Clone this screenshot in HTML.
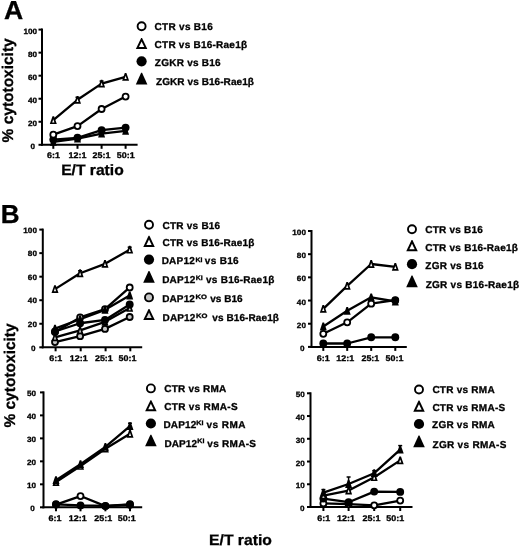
<!DOCTYPE html>
<html><head><meta charset="utf-8"><style>
html,body{margin:0;padding:0;background:#fff;}
svg{display:block;will-change:transform;}
text{text-rendering:geometricPrecision;font-family:"Liberation Sans",sans-serif;font-weight:bold;fill:#000;stroke:#000;stroke-width:0.3px;}
</style></head><body>
<svg width="520" height="547" viewBox="0 0 520 547">
<rect width="520" height="547" fill="#fff"/>
<text x="4.04" y="18.60" font-size="26" textLength="19.19" lengthAdjust="spacingAndGlyphs">A</text>
<text transform="translate(13.00,142.39) rotate(-90)" x="0" y="0" font-size="15.5" textLength="104.05" lengthAdjust="spacingAndGlyphs">% cytotoxicity</text>
<text x="61.18" y="174.80" font-size="15" textLength="62.55" lengthAdjust="spacingAndGlyphs">E/T ratio</text>
<line x1="42.00" y1="28.60" x2="42.00" y2="145.80" stroke="#000" stroke-width="2"/>
<line x1="41.00" y1="144.80" x2="137.60" y2="144.80" stroke="#000" stroke-width="2"/>
<line x1="38.50" y1="144.80" x2="42.00" y2="144.80" stroke="#000" stroke-width="2"/>
<line x1="38.50" y1="121.76" x2="42.00" y2="121.76" stroke="#000" stroke-width="2"/>
<line x1="38.50" y1="98.72" x2="42.00" y2="98.72" stroke="#000" stroke-width="2"/>
<line x1="38.50" y1="75.68" x2="42.00" y2="75.68" stroke="#000" stroke-width="2"/>
<line x1="38.50" y1="52.64" x2="42.00" y2="52.64" stroke="#000" stroke-width="2"/>
<line x1="38.50" y1="29.60" x2="42.00" y2="29.60" stroke="#000" stroke-width="2"/>
<line x1="53.30" y1="144.80" x2="53.30" y2="148.80" stroke="#000" stroke-width="2"/>
<line x1="77.50" y1="144.80" x2="77.50" y2="148.80" stroke="#000" stroke-width="2"/>
<line x1="101.60" y1="144.80" x2="101.60" y2="148.80" stroke="#000" stroke-width="2"/>
<line x1="125.60" y1="144.80" x2="125.60" y2="148.80" stroke="#000" stroke-width="2"/>
<text x="30.50" y="148.80" font-size="7.7" textLength="4.54" lengthAdjust="spacingAndGlyphs">0</text>
<text x="28.07" y="125.76" font-size="7.7" textLength="9.08" lengthAdjust="spacingAndGlyphs">20</text>
<text x="28.07" y="102.72" font-size="7.7" textLength="9.08" lengthAdjust="spacingAndGlyphs">40</text>
<text x="28.07" y="79.68" font-size="7.7" textLength="9.08" lengthAdjust="spacingAndGlyphs">60</text>
<text x="28.07" y="56.64" font-size="7.7" textLength="9.08" lengthAdjust="spacingAndGlyphs">80</text>
<text x="23.54" y="33.60" font-size="7.7" textLength="13.62" lengthAdjust="spacingAndGlyphs">100</text>
<text x="47.00" y="158.40" font-size="8.2" textLength="12.92" lengthAdjust="spacingAndGlyphs">6:1</text>
<text x="68.48" y="158.40" font-size="8.2" textLength="17.89" lengthAdjust="spacingAndGlyphs">12:1</text>
<text x="92.62" y="158.40" font-size="8.2" textLength="17.89" lengthAdjust="spacingAndGlyphs">25:1</text>
<text x="116.74" y="158.40" font-size="8.2" textLength="17.89" lengthAdjust="spacingAndGlyphs">50:1</text>
<polyline points="53.30,141.80 77.50,138.60 101.60,133.60 125.60,130.80" fill="none" stroke="#000" stroke-width="2.3" stroke-linejoin="round"/>
<polyline points="53.30,139.60 77.50,137.80 101.60,130.20 125.60,127.60" fill="none" stroke="#000" stroke-width="2.3" stroke-linejoin="round"/>
<polyline points="53.30,134.70 77.50,126.10 101.60,109.00 125.60,96.60" fill="none" stroke="#000" stroke-width="2.3" stroke-linejoin="round"/>
<polyline points="53.30,120.20 77.50,99.80 101.60,83.60 125.60,76.80" fill="none" stroke="#000" stroke-width="2.3" stroke-linejoin="round"/>
<polygon points="52.50,137.90 54.10,137.90 56.80,145.70 49.80,145.70" fill="#000"/>
<polygon points="76.70,134.70 78.30,134.70 81.00,142.50 74.00,142.50" fill="#000"/>
<polygon points="100.80,129.70 102.40,129.70 105.10,137.50 98.10,137.50" fill="#000"/>
<polygon points="124.80,126.90 126.40,126.90 129.10,134.70 122.10,134.70" fill="#000"/>
<circle cx="53.30" cy="139.60" r="3.95" fill="#000"/>
<circle cx="77.50" cy="137.80" r="3.95" fill="#000"/>
<circle cx="101.60" cy="130.20" r="3.95" fill="#000"/>
<circle cx="125.60" cy="127.60" r="3.95" fill="#000"/>
<circle cx="53.30" cy="134.70" r="3.00" fill="#fff" stroke="#000" stroke-width="1.80"/>
<circle cx="77.50" cy="126.10" r="3.00" fill="#fff" stroke="#000" stroke-width="1.80"/>
<circle cx="101.60" cy="109.00" r="3.00" fill="#fff" stroke="#000" stroke-width="1.80"/>
<circle cx="125.60" cy="96.60" r="3.00" fill="#fff" stroke="#000" stroke-width="1.80"/>
<line x1="77.50" y1="97.30" x2="77.50" y2="99.80" stroke="#000" stroke-width="1.5"/>
<line x1="75.50" y1="97.30" x2="79.50" y2="97.30" stroke="#000" stroke-width="1.5"/>
<line x1="101.60" y1="81.10" x2="101.60" y2="83.60" stroke="#000" stroke-width="1.5"/>
<line x1="99.60" y1="81.10" x2="103.60" y2="81.10" stroke="#000" stroke-width="1.5"/>
<polygon points="52.50,116.30 54.10,116.30 56.80,124.10 49.80,124.10" fill="#000"/>
<polygon points="53.30,119.19 54.41,122.40 52.19,122.40" fill="#fff"/>
<polygon points="76.70,95.90 78.30,95.90 81.00,103.70 74.00,103.70" fill="#000"/>
<polygon points="77.50,98.79 78.61,102.00 76.39,102.00" fill="#fff"/>
<polygon points="100.80,79.70 102.40,79.70 105.10,87.50 98.10,87.50" fill="#000"/>
<polygon points="101.60,82.59 102.71,85.80 100.49,85.80" fill="#fff"/>
<polygon points="124.80,72.90 126.40,72.90 129.10,80.70 122.10,80.70" fill="#000"/>
<polygon points="125.60,75.79 126.71,79.00 124.49,79.00" fill="#fff"/>
<circle cx="141.60" cy="26.30" r="4.00" fill="#fff" stroke="#000" stroke-width="1.90"/>
<text x="154.60" y="30.10" font-size="10.0" letter-spacing="0.289">CTR vs B16</text>
<polygon points="141.15,37.95 142.05,37.95 147.35,49.05 135.85,49.05" fill="#000"/>
<polygon points="141.60,41.53 144.26,47.10 138.94,47.10" fill="#fff"/>
<text x="154.60" y="48.00" font-size="10.0" letter-spacing="0.237">CTR vs B16-Rae1β</text>
<circle cx="141.60" cy="61.30" r="5.10" fill="#000"/>
<text x="154.80" y="65.90" font-size="10.0" letter-spacing="0.250">ZGKR vs B16</text>
<polygon points="141.15,72.85 142.05,72.85 147.40,84.55 135.80,84.55" fill="#000"/>
<text x="156.00" y="85.10" font-size="10.0" letter-spacing="0.078">ZGKR vs B16-Rae1β</text>
<text x="0.81" y="222.60" font-size="26" textLength="18.82" lengthAdjust="spacingAndGlyphs">B</text>
<text transform="translate(15.30,427.59) rotate(-90)" x="0" y="0" font-size="15.5" textLength="104.25" lengthAdjust="spacingAndGlyphs">% cytotoxicity</text>
<text x="209.08" y="544.50" font-size="15" textLength="62.76" lengthAdjust="spacingAndGlyphs">E/T ratio</text>
<line x1="42.80" y1="228.60" x2="42.80" y2="348.30" stroke="#000" stroke-width="2"/>
<line x1="41.80" y1="347.30" x2="142.20" y2="347.30" stroke="#000" stroke-width="2"/>
<line x1="39.30" y1="347.30" x2="42.80" y2="347.30" stroke="#000" stroke-width="2"/>
<line x1="39.30" y1="323.76" x2="42.80" y2="323.76" stroke="#000" stroke-width="2"/>
<line x1="39.30" y1="300.22" x2="42.80" y2="300.22" stroke="#000" stroke-width="2"/>
<line x1="39.30" y1="276.68" x2="42.80" y2="276.68" stroke="#000" stroke-width="2"/>
<line x1="39.30" y1="253.14" x2="42.80" y2="253.14" stroke="#000" stroke-width="2"/>
<line x1="39.30" y1="229.60" x2="42.80" y2="229.60" stroke="#000" stroke-width="2"/>
<line x1="55.60" y1="347.30" x2="55.60" y2="351.30" stroke="#000" stroke-width="2"/>
<line x1="80.70" y1="347.30" x2="80.70" y2="351.30" stroke="#000" stroke-width="2"/>
<line x1="105.60" y1="347.30" x2="105.60" y2="351.30" stroke="#000" stroke-width="2"/>
<line x1="130.30" y1="347.30" x2="130.30" y2="351.30" stroke="#000" stroke-width="2"/>
<text x="30.90" y="350.50" font-size="7.7" textLength="4.54" lengthAdjust="spacingAndGlyphs">0</text>
<text x="27.87" y="326.96" font-size="7.7" textLength="9.08" lengthAdjust="spacingAndGlyphs">20</text>
<text x="27.87" y="303.42" font-size="7.7" textLength="9.08" lengthAdjust="spacingAndGlyphs">40</text>
<text x="27.87" y="279.88" font-size="7.7" textLength="9.08" lengthAdjust="spacingAndGlyphs">60</text>
<text x="27.87" y="256.34" font-size="7.7" textLength="9.08" lengthAdjust="spacingAndGlyphs">80</text>
<text x="23.34" y="232.80" font-size="7.7" textLength="13.62" lengthAdjust="spacingAndGlyphs">100</text>
<text x="49.30" y="360.60" font-size="8.2" textLength="12.92" lengthAdjust="spacingAndGlyphs">6:1</text>
<text x="69.88" y="360.60" font-size="8.2" textLength="17.89" lengthAdjust="spacingAndGlyphs">12:1</text>
<text x="94.92" y="360.60" font-size="8.2" textLength="17.89" lengthAdjust="spacingAndGlyphs">25:1</text>
<text x="118.54" y="360.60" font-size="8.2" textLength="17.89" lengthAdjust="spacingAndGlyphs">50:1</text>
<polyline points="55.00,342.09 80.10,336.21 105.00,328.91 129.70,317.02" fill="none" stroke="#000" stroke-width="2.3" stroke-linejoin="round"/>
<polyline points="55.00,337.38 80.10,330.32 105.00,321.85 129.70,307.96" fill="none" stroke="#000" stroke-width="2.3" stroke-linejoin="round"/>
<polyline points="55.00,332.09 80.10,317.38 105.00,309.14 129.70,287.48" fill="none" stroke="#000" stroke-width="2.3" stroke-linejoin="round"/>
<polyline points="55.00,331.50 80.10,323.26 105.00,319.96 129.70,304.43" fill="none" stroke="#000" stroke-width="2.3" stroke-linejoin="round"/>
<polyline points="55.00,328.67 80.10,319.26 105.00,309.84 129.70,295.48" fill="none" stroke="#000" stroke-width="2.3" stroke-linejoin="round"/>
<polyline points="55.00,289.13 80.10,273.24 105.00,263.82 129.70,249.70" fill="none" stroke="#000" stroke-width="2.3" stroke-linejoin="round"/>
<circle cx="55.00" cy="342.09" r="3.00" fill="#c8c8c8" stroke="#000" stroke-width="1.80"/>
<circle cx="80.10" cy="336.21" r="3.00" fill="#c8c8c8" stroke="#000" stroke-width="1.80"/>
<circle cx="105.00" cy="328.91" r="3.00" fill="#c8c8c8" stroke="#000" stroke-width="1.80"/>
<circle cx="129.70" cy="317.02" r="3.00" fill="#c8c8c8" stroke="#000" stroke-width="1.80"/>
<polygon points="54.20,333.48 55.80,333.48 58.50,341.28 51.50,341.28" fill="#000"/>
<polygon points="55.00,336.37 56.11,339.58 53.89,339.58" fill="#d6d6d6"/>
<polygon points="79.30,326.42 80.90,326.42 83.60,334.22 76.60,334.22" fill="#000"/>
<polygon points="80.10,329.31 81.21,332.52 78.99,332.52" fill="#d6d6d6"/>
<polygon points="104.20,317.95 105.80,317.95 108.50,325.75 101.50,325.75" fill="#000"/>
<polygon points="105.00,320.83 106.11,324.05 103.89,324.05" fill="#d6d6d6"/>
<polygon points="128.90,304.06 130.50,304.06 133.20,311.86 126.20,311.86" fill="#000"/>
<polygon points="129.70,306.94 130.81,310.16 128.59,310.16" fill="#d6d6d6"/>
<circle cx="55.00" cy="332.09" r="3.00" fill="#fff" stroke="#000" stroke-width="1.80"/>
<circle cx="80.10" cy="317.38" r="3.00" fill="#fff" stroke="#000" stroke-width="1.80"/>
<circle cx="105.00" cy="309.14" r="3.00" fill="#fff" stroke="#000" stroke-width="1.80"/>
<circle cx="129.70" cy="287.48" r="3.00" fill="#fff" stroke="#000" stroke-width="1.80"/>
<circle cx="55.00" cy="331.50" r="3.95" fill="#000"/>
<circle cx="80.10" cy="323.26" r="3.95" fill="#000"/>
<circle cx="105.00" cy="319.96" r="3.95" fill="#000"/>
<circle cx="129.70" cy="304.43" r="3.95" fill="#000"/>
<polygon points="54.20,324.77 55.80,324.77 58.50,332.57 51.50,332.57" fill="#000"/>
<polygon points="79.30,315.36 80.90,315.36 83.60,323.16 76.60,323.16" fill="#000"/>
<polygon points="104.20,305.94 105.80,305.94 108.50,313.74 101.50,313.74" fill="#000"/>
<polygon points="128.90,291.58 130.50,291.58 133.20,299.38 126.20,299.38" fill="#000"/>
<line x1="80.10" y1="270.74" x2="80.10" y2="273.24" stroke="#000" stroke-width="1.5"/>
<line x1="78.10" y1="270.74" x2="82.10" y2="270.74" stroke="#000" stroke-width="1.5"/>
<line x1="129.70" y1="247.20" x2="129.70" y2="249.70" stroke="#000" stroke-width="1.5"/>
<line x1="127.70" y1="247.20" x2="131.70" y2="247.20" stroke="#000" stroke-width="1.5"/>
<polygon points="54.20,285.23 55.80,285.23 58.50,293.03 51.50,293.03" fill="#000"/>
<polygon points="55.00,288.11 56.11,291.33 53.89,291.33" fill="#fff"/>
<polygon points="79.30,269.34 80.90,269.34 83.60,277.14 76.60,277.14" fill="#000"/>
<polygon points="80.10,272.22 81.21,275.44 78.99,275.44" fill="#fff"/>
<polygon points="104.20,259.92 105.80,259.92 108.50,267.72 101.50,267.72" fill="#000"/>
<polygon points="105.00,262.81 106.11,266.02 103.89,266.02" fill="#fff"/>
<polygon points="128.90,245.80 130.50,245.80 133.20,253.60 126.20,253.60" fill="#000"/>
<polygon points="129.70,248.68 130.81,251.90 128.59,251.90" fill="#fff"/>
<circle cx="149.00" cy="224.80" r="4.00" fill="#fff" stroke="#000" stroke-width="1.90"/>
<text x="162.60" y="228.60" font-size="10.0" letter-spacing="0.222">CTR vs B16</text>
<polygon points="148.55,235.85 149.45,235.85 154.75,246.95 143.25,246.95" fill="#000"/>
<polygon points="149.00,239.43 151.66,245.00 146.34,245.00" fill="#fff"/>
<text x="162.60" y="246.00" font-size="10.0" letter-spacing="0.190">CTR vs B16-Rae1β</text>
<circle cx="149.00" cy="259.60" r="5.10" fill="#000"/>
<text x="161.65" y="264.10" font-size="10.0" letter-spacing="0.250">DAP12</text>
<text x="195.44" y="262.30" font-size="6.4" textLength="7.05" lengthAdjust="spacingAndGlyphs">KI</text>
<text x="204.75" y="264.10" font-size="10.0" letter-spacing="0.330">vs B16</text>
<polygon points="148.55,270.95 149.45,270.95 154.80,282.65 143.20,282.65" fill="#000"/>
<text x="162.15" y="282.90" font-size="10.0" letter-spacing="0.225">DAP12</text>
<text x="195.85" y="280.30" font-size="6.4" textLength="6.94" lengthAdjust="spacingAndGlyphs">KI</text>
<text x="206.05" y="282.90" font-size="10.0" letter-spacing="0.245">vs B16-Rae1β</text>
<circle cx="149.00" cy="297.40" r="4.00" fill="#c8c8c8" stroke="#000" stroke-width="1.90"/>
<text x="162.15" y="302.00" font-size="10.0" letter-spacing="0.125">DAP12</text>
<text x="195.50" y="298.60" font-size="6.4" textLength="11.44" lengthAdjust="spacingAndGlyphs">KO</text>
<text x="210.15" y="302.00" font-size="10.0" letter-spacing="0.030">vs B16</text>
<polygon points="148.55,308.95 149.45,308.95 154.75,320.05 143.25,320.05" fill="#000"/>
<polygon points="149.00,312.53 151.66,318.10 146.34,318.10" fill="#d6d6d6"/>
<text x="162.55" y="321.00" font-size="10.0" letter-spacing="0.125">DAP12</text>
<text x="195.90" y="317.90" font-size="6.4" textLength="11.44" lengthAdjust="spacingAndGlyphs">KO</text>
<text x="212.25" y="321.00" font-size="10.0" letter-spacing="0.100">vs B16-Rae1β</text>
<line x1="311.50" y1="230.00" x2="311.50" y2="347.90" stroke="#000" stroke-width="2"/>
<line x1="310.50" y1="346.90" x2="406.80" y2="346.90" stroke="#000" stroke-width="2"/>
<line x1="308.00" y1="346.90" x2="311.50" y2="346.90" stroke="#000" stroke-width="2"/>
<line x1="308.00" y1="323.72" x2="311.50" y2="323.72" stroke="#000" stroke-width="2"/>
<line x1="308.00" y1="300.54" x2="311.50" y2="300.54" stroke="#000" stroke-width="2"/>
<line x1="308.00" y1="277.36" x2="311.50" y2="277.36" stroke="#000" stroke-width="2"/>
<line x1="308.00" y1="254.18" x2="311.50" y2="254.18" stroke="#000" stroke-width="2"/>
<line x1="308.00" y1="231.00" x2="311.50" y2="231.00" stroke="#000" stroke-width="2"/>
<line x1="323.30" y1="346.90" x2="323.30" y2="350.90" stroke="#000" stroke-width="2"/>
<line x1="347.20" y1="346.90" x2="347.20" y2="350.90" stroke="#000" stroke-width="2"/>
<line x1="371.20" y1="346.90" x2="371.20" y2="350.90" stroke="#000" stroke-width="2"/>
<line x1="395.30" y1="346.90" x2="395.30" y2="350.90" stroke="#000" stroke-width="2"/>
<text x="300.10" y="350.90" font-size="7.7" textLength="4.54" lengthAdjust="spacingAndGlyphs">0</text>
<text x="296.87" y="327.72" font-size="7.7" textLength="9.08" lengthAdjust="spacingAndGlyphs">20</text>
<text x="296.87" y="304.54" font-size="7.7" textLength="9.08" lengthAdjust="spacingAndGlyphs">40</text>
<text x="296.87" y="281.36" font-size="7.7" textLength="9.08" lengthAdjust="spacingAndGlyphs">60</text>
<text x="296.87" y="258.18" font-size="7.7" textLength="9.08" lengthAdjust="spacingAndGlyphs">80</text>
<text x="292.34" y="235.00" font-size="7.7" textLength="13.62" lengthAdjust="spacingAndGlyphs">100</text>
<text x="316.80" y="361.10" font-size="8.2" textLength="12.92" lengthAdjust="spacingAndGlyphs">6:1</text>
<text x="336.28" y="361.10" font-size="8.2" textLength="17.89" lengthAdjust="spacingAndGlyphs">12:1</text>
<text x="361.42" y="361.10" font-size="8.2" textLength="17.89" lengthAdjust="spacingAndGlyphs">25:1</text>
<text x="385.54" y="361.10" font-size="8.2" textLength="17.89" lengthAdjust="spacingAndGlyphs">50:1</text>
<polyline points="323.30,343.50 347.20,343.50 371.20,337.30 395.30,337.30" fill="none" stroke="#000" stroke-width="2.3" stroke-linejoin="round"/>
<polyline points="323.30,333.80 347.20,322.30 371.20,303.70 395.30,300.20" fill="none" stroke="#000" stroke-width="2.3" stroke-linejoin="round"/>
<polyline points="323.30,326.50 347.20,310.80 371.20,297.30 395.30,301.50" fill="none" stroke="#000" stroke-width="2.3" stroke-linejoin="round"/>
<polyline points="323.30,308.80 347.20,285.80 371.20,264.00 395.30,266.90" fill="none" stroke="#000" stroke-width="2.3" stroke-linejoin="round"/>
<circle cx="323.30" cy="343.50" r="3.95" fill="#000"/>
<circle cx="347.20" cy="343.50" r="3.95" fill="#000"/>
<circle cx="371.20" cy="337.30" r="3.95" fill="#000"/>
<circle cx="395.30" cy="337.30" r="3.95" fill="#000"/>
<circle cx="323.30" cy="333.80" r="3.00" fill="#fff" stroke="#000" stroke-width="1.80"/>
<circle cx="347.20" cy="322.30" r="3.00" fill="#fff" stroke="#000" stroke-width="1.80"/>
<circle cx="371.20" cy="303.70" r="3.00" fill="#fff" stroke="#000" stroke-width="1.80"/>
<circle cx="395.30" cy="300.20" r="3.00" fill="#fff" stroke="#000" stroke-width="1.80"/>
<polygon points="322.50,322.60 324.10,322.60 326.80,330.40 319.80,330.40" fill="#000"/>
<polygon points="346.40,306.90 348.00,306.90 350.70,314.70 343.70,314.70" fill="#000"/>
<polygon points="370.40,293.40 372.00,293.40 374.70,301.20 367.70,301.20" fill="#000"/>
<polygon points="394.50,297.60 396.10,297.60 398.80,305.40 391.80,305.40" fill="#000"/>
<polygon points="322.50,304.90 324.10,304.90 326.80,312.70 319.80,312.70" fill="#000"/>
<polygon points="323.30,307.79 324.41,311.00 322.19,311.00" fill="#fff"/>
<polygon points="346.40,281.90 348.00,281.90 350.70,289.70 343.70,289.70" fill="#000"/>
<polygon points="347.20,284.79 348.31,288.00 346.09,288.00" fill="#fff"/>
<polygon points="370.40,260.10 372.00,260.10 374.70,267.90 367.70,267.90" fill="#000"/>
<polygon points="371.20,262.99 372.31,266.20 370.09,266.20" fill="#fff"/>
<polygon points="394.50,263.00 396.10,263.00 398.80,270.80 391.80,270.80" fill="#000"/>
<polygon points="395.30,265.89 396.41,269.10 394.19,269.10" fill="#fff"/>
<circle cx="395.3" cy="300.4" r="3.7" fill="#000"/>
<circle cx="412.00" cy="229.20" r="4.00" fill="#fff" stroke="#000" stroke-width="1.90"/>
<text x="425.20" y="233.00" font-size="10.0" letter-spacing="0.222">CTR vs B16</text>
<polygon points="411.55,240.05 412.45,240.05 417.75,251.15 406.25,251.15" fill="#000"/>
<polygon points="412.00,243.63 414.66,249.20 409.34,249.20" fill="#fff"/>
<text x="425.20" y="250.50" font-size="10.0" letter-spacing="0.250">CTR vs B16-Rae1β</text>
<circle cx="412.00" cy="264.20" r="5.10" fill="#000"/>
<text x="425.30" y="268.90" font-size="10.0" letter-spacing="0.250">ZGR vs B16</text>
<polygon points="411.55,275.45 412.45,275.45 417.80,287.15 406.20,287.15" fill="#000"/>
<text x="425.70" y="287.60" font-size="10.0" letter-spacing="0.260">ZGR vs B16-Rae1β</text>
<line x1="43.50" y1="391.40" x2="43.50" y2="508.30" stroke="#000" stroke-width="2"/>
<line x1="42.50" y1="507.30" x2="142.20" y2="507.30" stroke="#000" stroke-width="2"/>
<line x1="40.00" y1="507.30" x2="43.50" y2="507.30" stroke="#000" stroke-width="2"/>
<line x1="40.00" y1="484.32" x2="43.50" y2="484.32" stroke="#000" stroke-width="2"/>
<line x1="40.00" y1="461.34" x2="43.50" y2="461.34" stroke="#000" stroke-width="2"/>
<line x1="40.00" y1="438.36" x2="43.50" y2="438.36" stroke="#000" stroke-width="2"/>
<line x1="40.00" y1="415.38" x2="43.50" y2="415.38" stroke="#000" stroke-width="2"/>
<line x1="40.00" y1="392.40" x2="43.50" y2="392.40" stroke="#000" stroke-width="2"/>
<line x1="56.00" y1="507.30" x2="56.00" y2="511.30" stroke="#000" stroke-width="2"/>
<line x1="80.50" y1="507.30" x2="80.50" y2="511.30" stroke="#000" stroke-width="2"/>
<line x1="105.40" y1="507.30" x2="105.40" y2="511.30" stroke="#000" stroke-width="2"/>
<line x1="130.00" y1="507.30" x2="130.00" y2="511.30" stroke="#000" stroke-width="2"/>
<text x="30.30" y="511.30" font-size="7.7" textLength="4.54" lengthAdjust="spacingAndGlyphs">0</text>
<text x="27.07" y="488.32" font-size="7.7" textLength="9.08" lengthAdjust="spacingAndGlyphs">10</text>
<text x="27.07" y="465.34" font-size="7.7" textLength="9.08" lengthAdjust="spacingAndGlyphs">20</text>
<text x="27.07" y="442.36" font-size="7.7" textLength="9.08" lengthAdjust="spacingAndGlyphs">30</text>
<text x="27.07" y="419.38" font-size="7.7" textLength="9.08" lengthAdjust="spacingAndGlyphs">40</text>
<text x="27.07" y="396.40" font-size="7.7" textLength="9.08" lengthAdjust="spacingAndGlyphs">50</text>
<text x="48.50" y="520.50" font-size="8.2" textLength="12.92" lengthAdjust="spacingAndGlyphs">6:1</text>
<text x="68.78" y="520.50" font-size="8.2" textLength="17.89" lengthAdjust="spacingAndGlyphs">12:1</text>
<text x="94.22" y="520.50" font-size="8.2" textLength="17.89" lengthAdjust="spacingAndGlyphs">25:1</text>
<text x="117.84" y="520.50" font-size="8.2" textLength="17.89" lengthAdjust="spacingAndGlyphs">50:1</text>
<polyline points="56.00,504.54 80.50,496.04 105.40,506.15 130.00,504.77" fill="none" stroke="#000" stroke-width="2.3" stroke-linejoin="round"/>
<polyline points="56.00,504.31 80.50,505.46 105.40,505.92 130.00,504.31" fill="none" stroke="#000" stroke-width="2.3" stroke-linejoin="round"/>
<polyline points="56.00,482.02 80.50,465.94 105.40,448.70 130.00,433.76" fill="none" stroke="#000" stroke-width="2.3" stroke-linejoin="round"/>
<polyline points="56.00,480.18 80.50,464.10 105.40,446.86 130.00,426.18" fill="none" stroke="#000" stroke-width="2.3" stroke-linejoin="round"/>
<circle cx="56.00" cy="504.54" r="3.00" fill="#fff" stroke="#000" stroke-width="1.80"/>
<circle cx="80.50" cy="496.04" r="3.00" fill="#fff" stroke="#000" stroke-width="1.80"/>
<circle cx="105.40" cy="506.15" r="3.00" fill="#fff" stroke="#000" stroke-width="1.80"/>
<circle cx="130.00" cy="504.77" r="3.00" fill="#fff" stroke="#000" stroke-width="1.80"/>
<circle cx="56.00" cy="504.31" r="3.95" fill="#000"/>
<circle cx="80.50" cy="505.46" r="3.95" fill="#000"/>
<circle cx="105.40" cy="505.92" r="3.95" fill="#000"/>
<circle cx="130.00" cy="504.31" r="3.95" fill="#000"/>
<polygon points="55.20,478.12 56.80,478.12 59.50,485.92 52.50,485.92" fill="#000"/>
<polygon points="56.00,481.01 57.11,484.22 54.89,484.22" fill="#fff"/>
<polygon points="79.70,462.04 81.30,462.04 84.00,469.84 77.00,469.84" fill="#000"/>
<polygon points="80.50,464.92 81.61,468.14 79.39,468.14" fill="#fff"/>
<polygon points="104.60,444.80 106.20,444.80 108.90,452.60 101.90,452.60" fill="#000"/>
<polygon points="105.40,447.69 106.51,450.90 104.29,450.90" fill="#fff"/>
<polygon points="129.20,429.86 130.80,429.86 133.50,437.66 126.50,437.66" fill="#000"/>
<polygon points="130.00,432.75 131.11,435.96 128.89,435.96" fill="#fff"/>
<line x1="130.00" y1="423.18" x2="130.00" y2="426.18" stroke="#000" stroke-width="1.5"/>
<line x1="128.00" y1="423.18" x2="132.00" y2="423.18" stroke="#000" stroke-width="1.5"/>
<polygon points="55.20,476.28 56.80,476.28 59.50,484.08 52.50,484.08" fill="#000"/>
<polygon points="79.70,460.20 81.30,460.20 84.00,468.00 77.00,468.00" fill="#000"/>
<polygon points="104.60,442.96 106.20,442.96 108.90,450.76 101.90,450.76" fill="#000"/>
<polygon points="129.20,422.28 130.80,422.28 133.50,430.08 126.50,430.08" fill="#000"/>
<circle cx="150.90" cy="388.40" r="4.00" fill="#fff" stroke="#000" stroke-width="1.90"/>
<text x="164.20" y="392.10" font-size="10.0" letter-spacing="0.228">CTR vs RMA</text>
<polygon points="150.45,400.15 151.35,400.15 156.65,411.25 145.15,411.25" fill="#000"/>
<polygon points="150.90,403.73 153.56,409.30 148.24,409.30" fill="#fff"/>
<text x="164.20" y="410.00" font-size="10.0" letter-spacing="0.314">CTR vs RMA-S</text>
<circle cx="150.90" cy="423.50" r="5.10" fill="#000"/>
<text x="163.45" y="428.20" font-size="10.0" letter-spacing="0.175">DAP12</text>
<text x="196.33" y="425.40" font-size="6.4" textLength="7.28" lengthAdjust="spacingAndGlyphs">KI</text>
<text x="206.45" y="428.20" font-size="10.0" letter-spacing="0.490">vs RMA</text>
<polygon points="150.45,434.65 151.35,434.65 156.70,446.35 145.10,446.35" fill="#000"/>
<text x="164.45" y="446.60" font-size="10.0" letter-spacing="0.100">DAP12</text>
<text x="197.33" y="443.20" font-size="6.4" textLength="7.17" lengthAdjust="spacingAndGlyphs">KI</text>
<text x="207.35" y="446.60" font-size="10.0" letter-spacing="0.279">vs RMA-S</text>
<line x1="310.50" y1="392.30" x2="310.50" y2="508.00" stroke="#000" stroke-width="2"/>
<line x1="309.50" y1="507.00" x2="412.50" y2="507.00" stroke="#000" stroke-width="2"/>
<line x1="307.00" y1="507.00" x2="310.50" y2="507.00" stroke="#000" stroke-width="2"/>
<line x1="307.00" y1="484.26" x2="310.50" y2="484.26" stroke="#000" stroke-width="2"/>
<line x1="307.00" y1="461.52" x2="310.50" y2="461.52" stroke="#000" stroke-width="2"/>
<line x1="307.00" y1="438.78" x2="310.50" y2="438.78" stroke="#000" stroke-width="2"/>
<line x1="307.00" y1="416.04" x2="310.50" y2="416.04" stroke="#000" stroke-width="2"/>
<line x1="307.00" y1="393.30" x2="310.50" y2="393.30" stroke="#000" stroke-width="2"/>
<line x1="323.40" y1="507.00" x2="323.40" y2="511.00" stroke="#000" stroke-width="2"/>
<line x1="348.60" y1="507.00" x2="348.60" y2="511.00" stroke="#000" stroke-width="2"/>
<line x1="374.20" y1="507.00" x2="374.20" y2="511.00" stroke="#000" stroke-width="2"/>
<line x1="400.20" y1="507.00" x2="400.20" y2="511.00" stroke="#000" stroke-width="2"/>
<text x="299.90" y="511.00" font-size="7.7" textLength="4.54" lengthAdjust="spacingAndGlyphs">0</text>
<text x="295.67" y="488.26" font-size="7.7" textLength="9.08" lengthAdjust="spacingAndGlyphs">10</text>
<text x="295.67" y="465.52" font-size="7.7" textLength="9.08" lengthAdjust="spacingAndGlyphs">20</text>
<text x="295.67" y="442.78" font-size="7.7" textLength="9.08" lengthAdjust="spacingAndGlyphs">30</text>
<text x="295.67" y="420.04" font-size="7.7" textLength="9.08" lengthAdjust="spacingAndGlyphs">40</text>
<text x="295.67" y="397.30" font-size="7.7" textLength="9.08" lengthAdjust="spacingAndGlyphs">50</text>
<text x="317.20" y="520.50" font-size="8.2" textLength="12.92" lengthAdjust="spacingAndGlyphs">6:1</text>
<text x="336.98" y="520.50" font-size="8.2" textLength="17.89" lengthAdjust="spacingAndGlyphs">12:1</text>
<text x="362.52" y="520.50" font-size="8.2" textLength="17.89" lengthAdjust="spacingAndGlyphs">25:1</text>
<text x="386.24" y="520.50" font-size="8.2" textLength="17.89" lengthAdjust="spacingAndGlyphs">50:1</text>
<polyline points="323.40,503.40 348.60,504.20 374.20,505.30 400.20,500.60" fill="none" stroke="#000" stroke-width="2.3" stroke-linejoin="round"/>
<polyline points="323.40,498.60 348.60,502.20 374.20,491.60 400.20,491.90" fill="none" stroke="#000" stroke-width="2.3" stroke-linejoin="round"/>
<polyline points="323.40,495.60 348.60,490.60 374.20,477.20 400.20,460.40" fill="none" stroke="#000" stroke-width="2.3" stroke-linejoin="round"/>
<polyline points="323.40,492.60 348.60,484.00 374.20,473.20 400.20,449.60" fill="none" stroke="#000" stroke-width="2.3" stroke-linejoin="round"/>
<circle cx="323.40" cy="503.40" r="3.00" fill="#fff" stroke="#000" stroke-width="1.80"/>
<circle cx="348.60" cy="504.20" r="3.00" fill="#fff" stroke="#000" stroke-width="1.80"/>
<circle cx="374.20" cy="505.30" r="3.00" fill="#fff" stroke="#000" stroke-width="1.80"/>
<circle cx="400.20" cy="500.60" r="3.00" fill="#fff" stroke="#000" stroke-width="1.80"/>
<circle cx="323.40" cy="498.60" r="3.95" fill="#000"/>
<circle cx="348.60" cy="502.20" r="3.95" fill="#000"/>
<circle cx="374.20" cy="491.60" r="3.95" fill="#000"/>
<circle cx="400.20" cy="491.90" r="3.95" fill="#000"/>
<polygon points="322.60,491.70 324.20,491.70 326.90,499.50 319.90,499.50" fill="#000"/>
<polygon points="323.40,494.59 324.51,497.80 322.29,497.80" fill="#fff"/>
<polygon points="347.80,486.70 349.40,486.70 352.10,494.50 345.10,494.50" fill="#000"/>
<polygon points="348.60,489.59 349.71,492.80 347.49,492.80" fill="#fff"/>
<polygon points="373.40,473.30 375.00,473.30 377.70,481.10 370.70,481.10" fill="#000"/>
<polygon points="374.20,476.19 375.31,479.40 373.09,479.40" fill="#fff"/>
<polygon points="399.40,456.50 401.00,456.50 403.70,464.30 396.70,464.30" fill="#000"/>
<polygon points="400.20,459.39 401.31,462.60 399.09,462.60" fill="#fff"/>
<line x1="323.40" y1="489.60" x2="323.40" y2="492.60" stroke="#000" stroke-width="1.5"/>
<line x1="321.40" y1="489.60" x2="325.40" y2="489.60" stroke="#000" stroke-width="1.5"/>
<line x1="348.60" y1="477.00" x2="348.60" y2="484.00" stroke="#000" stroke-width="1.5"/>
<line x1="346.60" y1="477.00" x2="350.60" y2="477.00" stroke="#000" stroke-width="1.5"/>
<line x1="374.20" y1="470.70" x2="374.20" y2="473.20" stroke="#000" stroke-width="1.5"/>
<line x1="372.20" y1="470.70" x2="376.20" y2="470.70" stroke="#000" stroke-width="1.5"/>
<line x1="400.20" y1="445.60" x2="400.20" y2="449.60" stroke="#000" stroke-width="1.5"/>
<line x1="398.20" y1="445.60" x2="402.20" y2="445.60" stroke="#000" stroke-width="1.5"/>
<polygon points="322.60,488.70 324.20,488.70 326.90,496.50 319.90,496.50" fill="#000"/>
<polygon points="347.80,480.10 349.40,480.10 352.10,487.90 345.10,487.90" fill="#000"/>
<polygon points="373.40,469.30 375.00,469.30 377.70,477.10 370.70,477.10" fill="#000"/>
<polygon points="399.40,445.70 401.00,445.70 403.70,453.50 396.70,453.50" fill="#000"/>
<circle cx="419.00" cy="389.50" r="4.00" fill="#fff" stroke="#000" stroke-width="1.90"/>
<text x="432.40" y="393.30" font-size="10.0" letter-spacing="0.250">CTR vs RMA</text>
<polygon points="418.55,400.55 419.45,400.55 424.75,411.65 413.25,411.65" fill="#000"/>
<polygon points="419.00,404.13 421.66,409.70 416.34,409.70" fill="#fff"/>
<text x="432.40" y="410.60" font-size="10.0" letter-spacing="0.250">CTR vs RMA-S</text>
<circle cx="419.00" cy="424.00" r="5.10" fill="#000"/>
<text x="432.10" y="428.30" font-size="10.0" letter-spacing="0.222">ZGR vs RMA</text>
<polygon points="418.55,435.45 419.45,435.45 424.80,447.15 413.20,447.15" fill="#000"/>
<text x="432.50" y="447.70" font-size="10.0" letter-spacing="0.300">ZGR vs RMA-S</text>
</svg>
</body></html>
